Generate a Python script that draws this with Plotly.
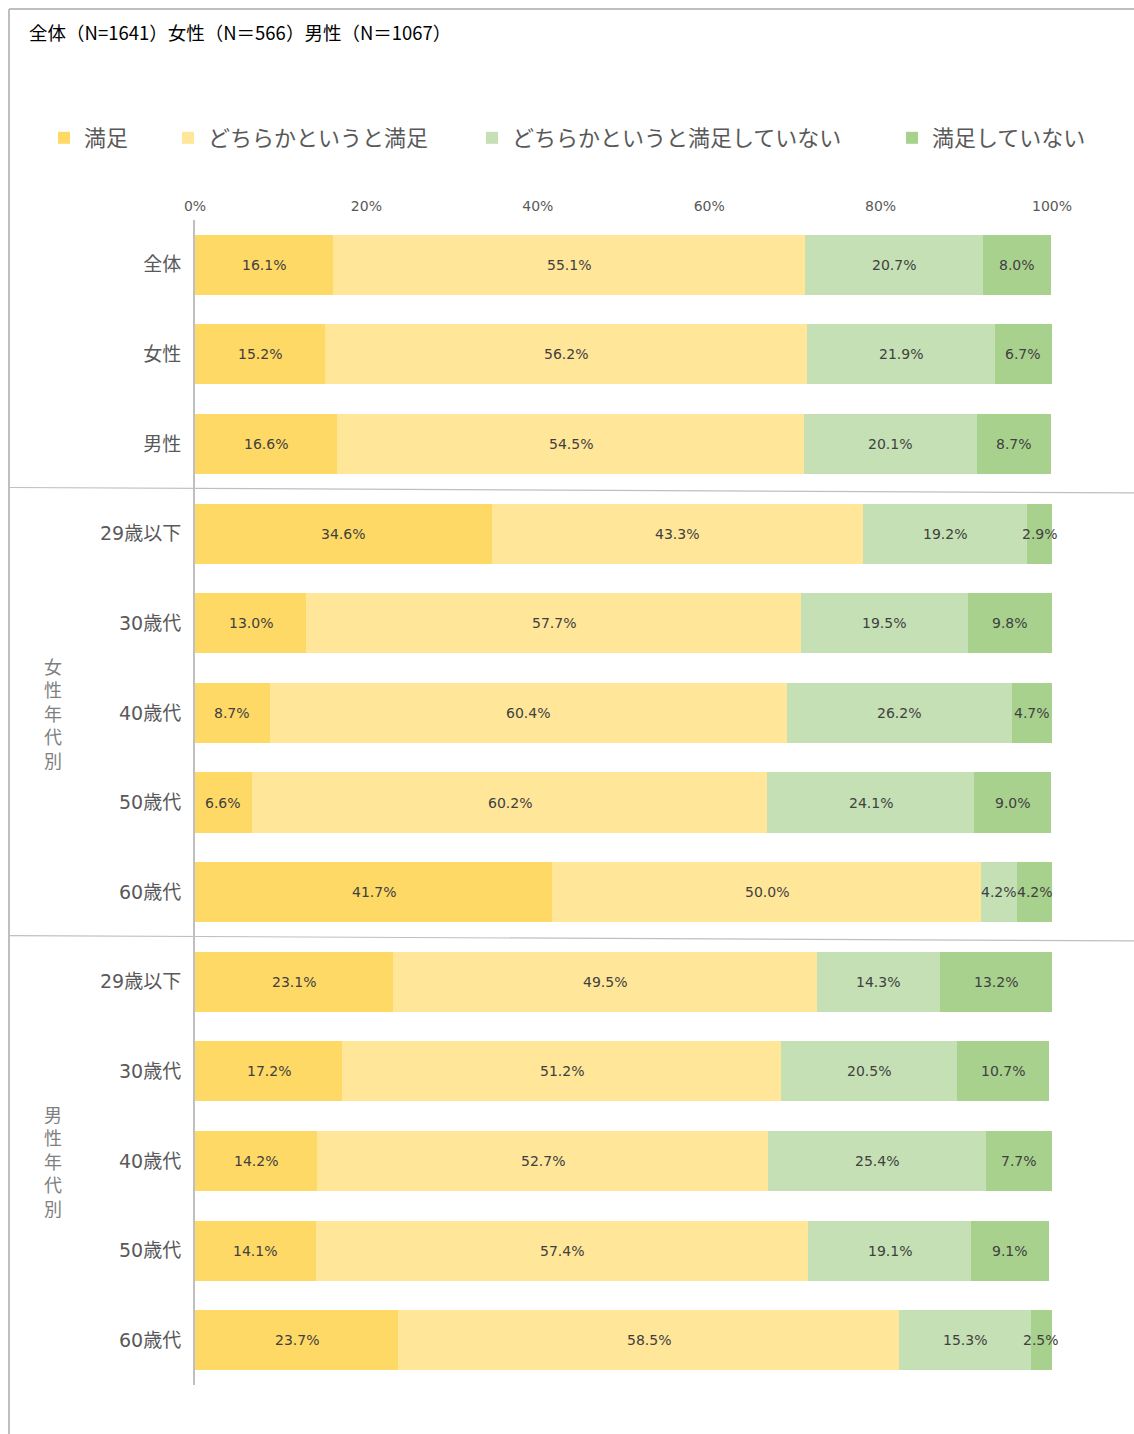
import plotly.graph_objects as go

categories = ["全体", "女性", "男性",
              "29歳以下", "30歳代", "40歳代", "50歳代", "60歳代",
              "29歳以下", "30歳代", "40歳代", "50歳代", "60歳代"]
series_names = ["満足", "どちらかというと満足", "どちらかというと満足していない", "満足していない"]
manzoku = [16.1, 15.2, 16.6, 34.6, 13.0, 8.7, 6.6, 41.7, 23.1, 17.2, 14.2, 14.1, 23.7]
dochira_manzoku = [55.1, 56.2, 54.5, 43.3, 57.7, 60.4, 60.2, 50.0, 49.5, 51.2, 52.7, 57.4, 58.5]
dochira_fuman = [20.7, 21.9, 20.1, 19.2, 19.5, 26.2, 24.1, 4.2, 14.3, 20.5, 25.4, 19.1, 15.3]
fuman = [8.0, 6.7, 8.7, 2.9, 9.8, 4.7, 9.0, 4.2, 13.2, 10.7, 7.7, 9.1, 2.5]
tick_vals_x = [0, 20, 40, 60, 80, 100]
tick_text_x = ["0%", "20%", "40%", "60%", "80%", "100%"]
group_labels = ["女性年代別", "男性年代別"]
group_rows = [5, 10]
separators = [2.5, 7.5]
title_text = "全体（N=1641）女性（N＝566）男性（N＝1067）"

colors = ["#FFD966", "#FFE699", "#C5E0B4", "#A9D18E"]
CJK = "Noto Sans CJK JP"
MIX = "DejaVu Sans, Noto Sans CJK JP"

W, H = 1134, 1434
L, R, T, B = 195, 82, 220, 49
pw, ph = W - L - R, H - T - B

def px_x(p):
    return (p - L) / pw

def px_y(p):
    return (H - B - p) / ph

legend_text_x = [84, 208, 512, 932]
legend_keys = ["legend", "legend2", "legend3", "legend4"]

ypos = list(range(len(categories)))
all_series = [manzoku, dochira_manzoku, dochira_fuman, fuman]
fig = go.Figure()
annotations = []
cum = [0.0] * len(categories)
for name, vals, col, lk in zip(series_names, all_series, colors, legend_keys):
    fig.add_trace(go.Bar(
        y=ypos, x=vals, name=name, orientation="h",
        marker=dict(color=col, line=dict(width=0)),
        width=0.67, legend=lk, hoverinfo="x+name",
    ))
    for i, v in enumerate(vals):
        annotations.append(dict(
            x=cum[i] + v / 2, xref="x", y=ypos[i], yref="y", text=f"{v:.1f}%",
            showarrow=False, xanchor="center", yanchor="middle",
            font=dict(size=14, color="#404040", family=MIX)))
        cum[i] += v

for lab, row in zip(group_labels, group_rows):
    annotations.append(dict(
        x=px_x(53), xref="paper", y=row, yref="y", text="<br>".join(lab), showarrow=False,
        font=dict(size=18, color="#7F7F7F", family=CJK),
        xanchor="center", yanchor="middle", align="center"))
annotations.append(dict(
    x=px_x(27), xref="paper", y=px_y(32), yref="paper", text=title_text, showarrow=False,
    xanchor="left", yanchor="middle", font=dict(size=18.5, color="#000000", family=CJK)))

shapes = [
    dict(type="line", xref="paper", yref="paper", x0=px_x(9), x1=px_x(9), y0=px_y(9), y1=px_y(1440),
         line=dict(color="#BFBFBF", width=2)),
    dict(type="line", xref="paper", yref="paper", x0=px_x(9), x1=px_x(1140), y0=px_y(9), y1=px_y(9),
         line=dict(color="#BFBFBF", width=2)),
]
for s in separators:
    shapes.append(dict(type="line", xref="paper", yref="y", x0=px_x(9), x1=px_x(1134), y0=s - 0.015, y1=s + 0.045,
                       line=dict(color="#BFBFBF", width=1.2)))

layout_legends = {}
for lk, tx in zip(legend_keys, legend_text_x):
    layout_legends[lk] = dict(
        orientation="h", x=px_x(tx - 40), xanchor="left", y=px_y(138), yanchor="middle",
        font=dict(size=22, color="#595959", family=CJK), itemwidth=30,
        bgcolor="rgba(0,0,0,0)")

fig.update_layout(
    width=W, height=H, margin=dict(l=L, r=R, t=T, b=B),
    paper_bgcolor="white", plot_bgcolor="white",
    barmode="stack", bargap=0.33,
    font=dict(family=CJK, color="#595959"),
    showlegend=True,
    annotations=annotations, shapes=shapes,
    **layout_legends,
)
fig.update_xaxes(range=[0, 100], side="top", tickvals=tick_vals_x, ticktext=tick_text_x,
                 showgrid=False, zeroline=False, showline=False, ticks="", ticklabelstandoff=5,
                 tickfont=dict(size=14, color="#595959", family=MIX))
fig.update_yaxes(range=[len(categories) - 0.5, -0.5], tickvals=ypos, ticktext=categories,
                 showgrid=False, zeroline=False, showline=True, linecolor="#BFBFBF", linewidth=2,
                 ticks="", ticklabelstandoff=8,
                 tickfont=dict(size=19, color="#595959", family=MIX))

fig.write_html("out.html")
